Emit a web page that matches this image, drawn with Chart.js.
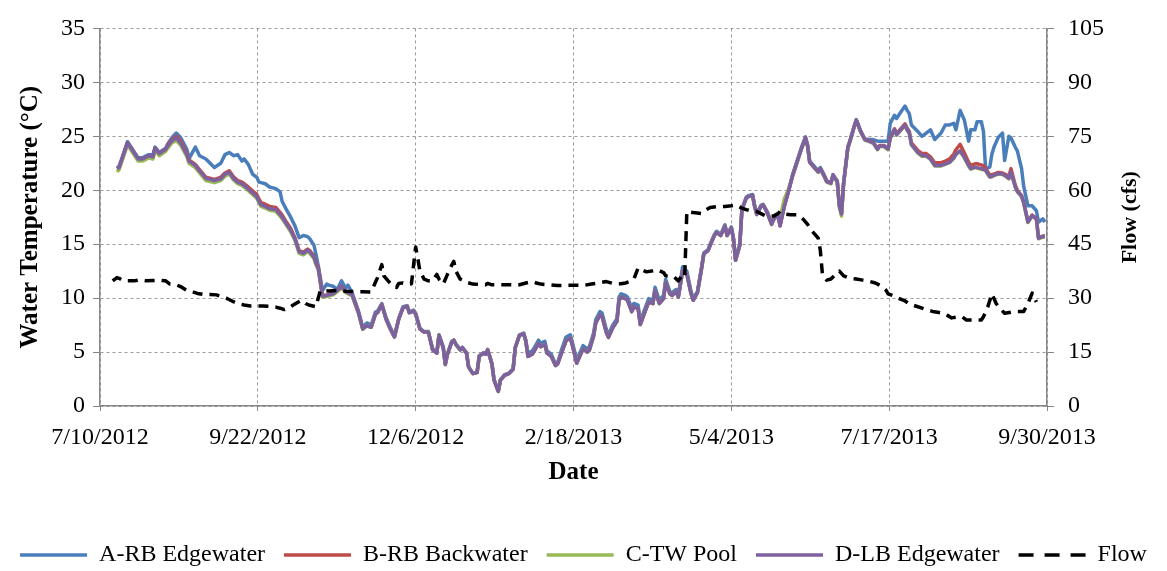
<!DOCTYPE html>
<html>
<head>
<meta charset="utf-8">
<title>Water temperature and flow</title>
<script src="https://cdn.jsdelivr.net/npm/chart.js@4.4.0/dist/chart.umd.min.js"></script>
<style>
  html, body { margin: 0; padding: 0; background: #fff; }
</style>
</head>
<body>
<canvas id="chart" width="1167" height="571"></canvas>
<script>
// x values are days counted from 7/10/2012
const startDate = new Date(2012, 6, 10);

const tempDays = [
    8, 9, 13, 16, 18, 20, 23, 25, 26, 28,
    31, 32, 34, 36, 38, 41, 42, 45, 47, 50,
    54, 57, 59, 61, 63, 65, 67, 68, 70, 72,
    74, 75, 76, 78, 80, 83, 85, 86, 88, 90,
    92, 94, 96, 98, 99, 101, 102, 103, 104, 105,
    107, 108, 110, 112, 114, 116, 117, 119, 122, 124,
    126, 128, 130, 131, 133, 135, 137, 139, 141, 143,
    145, 146, 148, 149, 151, 153, 155, 157, 159, 160,
    162, 163, 164, 166, 167, 168, 170, 171, 173, 174,
    176, 178, 179, 181, 182, 183, 185, 186, 188, 189,
    191, 193, 195, 196, 198, 200, 201, 202, 204, 205,
    207, 208, 210, 211, 213, 215, 216, 218, 220, 222,
    223, 225, 226, 228, 230, 231, 233, 234, 236, 237,
    239, 240, 242, 244, 245, 246, 248, 249, 251, 252,
    254, 255, 257, 259, 261, 262, 264, 266, 267, 269,
    270, 272, 273, 275, 277, 279, 280, 282, 284, 285,
    287, 288, 290, 291, 293, 295, 296, 298, 299, 300,
    302, 303, 305, 306, 308, 309, 310, 312, 313, 315,
    317, 318, 320, 321, 323, 325, 327, 329, 331, 333,
    334, 335, 337, 339, 340, 342, 343, 345, 346, 348,
    349, 350, 351, 353, 354, 356, 357, 359, 361, 363,
    365, 367, 368, 370, 372, 373, 375, 376, 378, 380,
    381, 382, 383, 386, 388, 390, 392, 394, 397, 399,
    401, 403, 404, 406, 408, 410, 411, 413, 414, 416,
    417, 418, 420, 421, 422, 424, 426, 427, 429, 430,
    432, 433, 435, 436, 438, 440, 442, 443, 445, 446
];

// A-RB Edgewater
const tempA = [
    22.1, 22.2, 24.5, 23.6, 23.0, 23.0, 23.3, 23.3, 24.0, 23.5,
    23.9, 24.3, 24.9, 25.3, 24.9, 23.8, 22.9, 24.0, 23.2, 22.9,
    22.1, 22.5, 23.3, 23.5, 23.2, 23.3, 22.7, 22.9, 22.4, 21.5,
    21.2, 20.75, 20.7, 20.6, 20.3, 20.15, 19.85, 18.95, 18.2, 17.5,
    16.7, 15.6, 15.8, 15.7, 15.5, 14.9, 14.0, 13.0, 11.9, 10.7,
    11.3, 11.2, 11.1, 10.8, 11.6, 10.9, 11.2, 10.5, 8.8, 7.3,
    7.7, 7.5, 8.7, 8.8, 9.5, 8.2, 7.3, 6.5, 8.1, 9.2,
    9.3, 8.7, 8.9, 8.6, 7.2, 6.9, 6.9, 5.3, 5.0, 6.6,
    5.5, 3.9, 4.8, 6.0, 6.1, 5.75, 5.25, 5.45, 4.95, 3.65,
    3.05, 3.15, 4.65, 4.95, 4.85, 5.25, 3.95, 2.45, 1.4, 2.45,
    2.9, 3.05, 3.45, 5.45, 6.6, 6.75, 6.1, 4.9, 5.1, 5.4,
    6.1, 5.8, 6.0, 5.1, 4.8, 3.9, 4.0, 5.3, 6.4, 6.6,
    5.9, 4.3, 4.7, 5.6, 5.3, 5.5, 6.8, 8.0, 8.75, 8.6,
    7.1, 6.6, 7.5, 8.1, 10.1, 10.4, 10.25, 10.1, 9.05, 9.5,
    9.35, 7.85, 8.9, 9.95, 9.8, 11.0, 9.8, 10.25, 11.75, 10.6,
    10.5, 10.8, 10.3, 12.9, 12.5, 10.6, 10.0, 10.6, 12.9, 14.2,
    14.5, 15.0, 15.9, 16.2, 15.9, 16.8, 15.9, 16.6, 15.6, 13.6,
    15.0, 18.3, 19.35, 19.5, 19.6, 18.6, 17.85, 18.6, 18.7, 18.0,
    16.95, 17.4, 17.8, 16.8, 18.6, 20.0, 21.5, 22.7, 23.9, 24.95,
    24.2, 22.7, 22.25, 21.8, 22.1, 21.35, 20.9, 20.65, 21.45, 20.85,
    18.6, 17.85, 20.7, 24.0, 24.6, 25.95, 26.55, 25.5, 24.75, 24.7,
    24.7, 24.55, 24.55, 24.55, 24.55, 26.2, 26.95, 26.65, 27.25, 27.8,
    27.4, 27.1, 26.05, 25.45, 25.0, 25.3, 25.6, 24.7, 25.3, 26.05,
    26.05, 26.2, 25.6, 27.4, 26.5, 24.55, 25.6, 25.6, 26.35, 26.35,
    25.45, 22.0, 22.15, 23.35, 24.0, 24.9, 25.3, 22.75, 25.0, 24.85,
    24.0, 23.65, 22.0, 20.35, 18.55, 18.55, 18.1, 17.05, 17.35, 17.05
];

// B-RB Backwater
const tempB = [
    22.0, 22.1, 24.4, 23.5, 22.9, 22.9, 23.2, 23.1, 23.9, 23.4,
    23.8, 24.2, 24.7, 25.0, 24.6, 23.4, 22.8, 22.4, 21.9, 21.2,
    21.0, 21.2, 21.6, 21.8, 21.25, 20.9, 20.75, 20.6, 20.3, 19.95,
    19.6, 19.2, 18.85, 18.7, 18.5, 18.4, 17.95, 17.7, 17.05, 16.45,
    15.6, 14.4, 14.25, 14.55, 14.4, 13.9, 13.3, 12.9, 11.6, 10.25,
    10.3, 10.35, 10.45, 10.7, 11.1, 10.6, 10.5, 10.3, 8.65, 7.15,
    7.45, 7.3, 8.5, 8.65, 9.4, 8.06, 7.15, 6.4, 8.06, 9.1,
    9.25, 8.65, 8.8, 8.5, 7.15, 6.85, 6.85, 5.2, 4.9, 6.55,
    5.4, 3.85, 4.8, 5.9, 6.1, 5.7, 5.2, 5.4, 4.9, 3.6,
    3.0, 3.1, 4.6, 4.9, 4.8, 5.2, 3.9, 2.4, 1.35, 2.4,
    2.85, 3.0, 3.4, 5.4, 6.55, 6.7, 6.0, 4.6, 4.8, 5.1,
    5.8, 5.5, 5.7, 4.9, 4.6, 3.75, 3.9, 5.0, 6.06, 6.3,
    5.6, 3.97, 4.4, 5.3, 5.0, 5.2, 6.5, 7.7, 8.45, 8.3,
    6.8, 6.36, 7.25, 7.85, 9.8, 10.1, 9.95, 9.8, 8.75, 9.2,
    9.05, 7.55, 8.6, 9.65, 9.5, 10.7, 9.5, 9.95, 11.45, 10.4,
    10.25, 10.6, 10.1, 12.5, 12.2, 10.4, 9.8, 10.5, 12.8, 14.1,
    14.4, 14.9, 15.8, 16.1, 15.8, 16.7, 15.8, 16.5, 15.5, 13.5,
    14.9, 18.2, 19.25, 19.4, 19.55, 18.5, 17.75, 18.5, 18.65, 17.9,
    16.85, 17.3, 17.75, 16.7, 18.5, 19.9, 21.4, 22.6, 23.8, 24.85,
    24.1, 22.6, 22.15, 21.7, 22.0, 21.25, 20.8, 20.65, 21.4, 20.8,
    18.55, 17.8, 20.65, 23.95, 24.55, 25.9, 26.5, 25.45, 24.7, 24.6,
    24.45, 23.9, 24.15, 24.15, 23.85, 24.9, 25.7, 25.25, 25.7, 26.15,
    25.75, 25.45, 24.4, 23.7, 23.4, 23.4, 23.1, 22.55, 22.55, 22.7,
    22.9, 23.35, 23.75, 24.25, 23.45, 22.6, 22.3, 22.45, 22.45, 22.35,
    22.25, 22.05, 21.4, 21.45, 21.5, 21.65, 21.6, 21.5, 21.3, 22.0,
    20.5, 20.0, 19.5, 18.9, 17.1, 17.7, 17.4, 15.6, 15.75, 15.75
];

// C-TW Pool
const tempC = [
    21.7, 21.9, 24.2, 23.3, 22.7, 22.7, 23.0, 22.9, 23.7, 23.2,
    23.6, 23.9, 24.4, 24.6, 24.2, 23.1, 22.5, 22.1, 21.6, 20.9,
    20.7, 20.9, 21.3, 21.5, 20.95, 20.6, 20.45, 20.3, 19.95, 19.6,
    19.25, 18.85, 18.5, 18.35, 18.15, 18.05, 17.6, 17.35, 16.75, 16.15,
    15.35, 14.15, 14.0, 14.3, 14.15, 13.65, 13.05, 12.65, 11.4, 10.1,
    10.15, 10.2, 10.3, 10.6, 10.95, 10.5, 10.4, 10.2, 8.6, 7.1,
    7.45, 7.3, 8.5, 8.65, 9.4, 8.06, 7.15, 6.4, 8.06, 9.1,
    9.25, 8.65, 8.8, 8.5, 7.15, 6.85, 6.85, 5.2, 4.9, 6.55,
    5.4, 3.85, 4.8, 5.9, 6.1, 5.7, 5.2, 5.4, 4.9, 3.6,
    3.0, 3.1, 4.6, 4.9, 4.8, 5.2, 3.9, 2.4, 1.35, 2.4,
    2.85, 3.0, 3.4, 5.4, 6.55, 6.7, 6.0, 4.6, 4.8, 5.1,
    5.8, 5.5, 5.7, 4.9, 4.6, 3.75, 3.9, 5.0, 6.06, 6.3,
    5.6, 3.97, 4.4, 5.3, 5.0, 5.2, 6.5, 7.7, 8.45, 8.3,
    6.8, 6.36, 7.25, 7.85, 9.8, 10.1, 9.95, 9.8, 8.75, 9.2,
    9.05, 7.55, 8.6, 9.65, 9.5, 10.7, 9.5, 9.95, 11.45, 10.4,
    10.25, 10.6, 10.1, 12.5, 12.2, 10.4, 9.8, 10.5, 12.8, 14.1,
    14.4, 14.9, 15.8, 16.1, 15.8, 16.7, 15.8, 16.5, 15.5, 13.5,
    14.9, 18.2, 19.25, 19.4, 19.55, 18.5, 17.75, 18.5, 18.65, 17.9,
    16.8, 17.25, 17.7, 17.4, 19.2, 20.1, 21.35, 22.55, 23.75, 24.8,
    24.05, 22.55, 22.1, 21.65, 21.95, 21.2, 20.75, 20.6, 21.35, 20.75,
    18.4, 17.6, 20.6, 23.9, 24.5, 25.85, 26.45, 25.4, 24.65, 24.5,
    24.35, 23.75, 24.05, 24.05, 23.75, 24.8, 25.55, 25.1, 25.55, 26.0,
    25.55, 25.25, 24.2, 23.45, 23.15, 23.15, 22.85, 22.25, 22.25, 22.4,
    22.55, 22.95, 23.3, 23.6, 23.0, 22.25, 21.95, 22.1, 22.05, 21.95,
    21.9, 21.8, 21.2, 21.25, 21.35, 21.5, 21.45, 21.35, 21.05, 21.65,
    20.3, 19.85, 19.4, 18.8, 17.0, 17.6, 17.3, 15.5, 15.65, 15.65
];

// D-LB Edgewater
const tempD = [
    22.0, 22.1, 24.4, 23.5, 22.9, 22.9, 23.2, 23.1, 23.9, 23.4,
    23.8, 24.1, 24.6, 24.85, 24.4, 23.3, 22.7, 22.3, 21.8, 21.1,
    20.9, 21.05, 21.5, 21.65, 21.1, 20.75, 20.6, 20.45, 20.1, 19.75,
    19.4, 19.0, 18.65, 18.5, 18.3, 18.2, 17.75, 17.5, 16.9, 16.3,
    15.5, 14.3, 14.15, 14.45, 14.3, 13.8, 13.2, 12.8, 11.5, 10.2,
    10.25, 10.3, 10.4, 10.7, 11.05, 10.6, 10.5, 10.3, 8.65, 7.15,
    7.45, 7.3, 8.5, 8.65, 9.4, 8.06, 7.15, 6.4, 8.06, 9.1,
    9.25, 8.65, 8.8, 8.5, 7.15, 6.85, 6.85, 5.2, 4.9, 6.55,
    5.4, 3.85, 4.8, 5.9, 6.1, 5.7, 5.2, 5.4, 4.9, 3.6,
    3.0, 3.1, 4.6, 4.9, 4.8, 5.2, 3.9, 2.4, 1.35, 2.4,
    2.85, 3.0, 3.4, 5.4, 6.55, 6.7, 6.0, 4.6, 4.8, 5.1,
    5.8, 5.5, 5.7, 4.9, 4.6, 3.75, 3.9, 5.0, 6.06, 6.3,
    5.6, 3.97, 4.4, 5.3, 5.0, 5.2, 6.5, 7.7, 8.45, 8.3,
    6.8, 6.36, 7.25, 7.85, 9.8, 10.1, 9.95, 9.8, 8.75, 9.2,
    9.05, 7.55, 8.6, 9.65, 9.5, 10.7, 9.5, 9.95, 11.45, 10.4,
    10.25, 10.6, 10.1, 12.5, 12.2, 10.4, 9.8, 10.5, 12.8, 14.1,
    14.4, 14.9, 15.8, 16.1, 15.8, 16.7, 15.8, 16.5, 15.5, 13.5,
    14.9, 18.2, 19.25, 19.4, 19.55, 18.5, 17.75, 18.5, 18.65, 17.9,
    16.85, 17.3, 17.75, 16.7, 18.5, 19.9, 21.4, 22.6, 23.8, 24.85,
    24.1, 22.6, 22.15, 21.7, 22.0, 21.25, 20.8, 20.65, 21.4, 20.8,
    18.55, 17.8, 20.65, 23.95, 24.55, 25.9, 26.5, 25.45, 24.7, 24.55,
    24.4, 23.8, 24.1, 24.1, 23.8, 24.85, 25.6, 25.15, 25.6, 26.05,
    25.6, 25.3, 24.25, 23.5, 23.2, 23.2, 22.9, 22.3, 22.3, 22.45,
    22.6, 23.0, 23.35, 23.65, 23.05, 22.3, 22.0, 22.15, 22.1, 22.0,
    21.95, 21.85, 21.25, 21.3, 21.4, 21.55, 21.5, 21.4, 21.1, 21.7,
    20.35, 19.9, 19.45, 18.85, 17.05, 17.65, 17.35, 15.55, 15.7, 15.7
];

const flowDays = [
    6, 8, 9, 11, 14, 16, 19, 22, 25, 28,
    31, 33, 36, 38, 41, 43, 46, 49, 52, 55,
    57, 60, 63, 65, 68, 71, 74, 77, 80, 83,
    85, 87, 89, 91, 93, 95, 97, 99, 102, 103,
    104, 108, 112, 116, 120, 124, 128, 130, 131, 133,
    134, 136, 138, 140, 141, 143, 145, 147, 149, 150,
    151, 153, 155, 157, 159, 160, 162, 164, 165, 167,
    168, 170, 173, 176, 179, 182, 183, 185, 189, 193,
    198, 201, 204, 206, 208, 212, 216, 221, 225, 228,
    232, 236, 239, 242, 246, 248, 250, 252, 254, 256,
    258, 261, 263, 266, 267, 269, 271, 273, 275, 276,
    277, 280, 284, 286, 288, 291, 295, 298, 300, 303,
    305, 307, 310, 312, 314, 316, 318, 320, 321, 323,
    326, 329, 332, 334, 336, 339, 340, 341, 343, 345,
    347, 349, 351, 354, 357, 360, 363, 366, 369, 371,
    372, 375, 377, 380, 382, 385, 388, 391, 393, 396,
    398, 400, 402, 404, 407, 409, 412, 416, 417, 419,
    421, 423, 425, 427, 430, 432, 436, 438, 440, 442
];

const flowCfs = [
    34.8, 35.7, 35.5, 34.8, 34.8, 34.8, 35.1, 34.8, 34.9, 35.0,
    34.8, 33.9, 33.7, 33.2, 32.1, 31.9, 31.3, 31.0, 31.0, 30.9,
    30.5, 29.9, 29.0, 28.5, 28.1, 27.8, 27.8, 27.8, 27.7, 27.5,
    27.2, 26.8, 27.2, 28.0, 28.7, 29.4, 28.5, 28.0, 27.6, 30.0,
    32.1, 32.0, 32.1, 31.9, 31.8, 31.8, 31.7, 34.4, 35.7, 39.3,
    36.2, 34.8, 33.5, 33.0, 34.1, 34.2, 33.8, 34.0, 44.2, 41.1,
    37.5, 35.3, 34.8, 34.8, 36.6, 35.3, 33.9, 36.6, 38.0, 40.2,
    37.5, 35.3, 34.4, 33.9, 33.8, 33.7, 34.1, 33.7, 33.7, 33.7,
    33.7, 34.2, 34.6, 34.2, 33.9, 33.7, 33.5, 33.6, 33.6, 33.5,
    33.9, 34.3, 34.6, 34.1, 34.0, 34.2, 34.6, 35.3, 38.4, 37.8,
    37.3, 37.6, 37.9, 37.1, 36.2, 36.0, 35.9, 34.8, 36.5, 36.0,
    54.1, 53.8, 53.5, 54.5, 55.2, 55.4, 55.5, 55.7, 55.9, 55.0,
    54.6, 54.3, 54.1, 53.5, 52.9, 52.8, 52.8, 53.5, 54.1, 53.4,
    53.2, 53.2, 51.9, 50.5, 48.7, 46.7, 43.3, 36.6, 35.0, 35.3,
    36.5, 37.5, 36.2, 35.5, 35.3, 35.0, 34.7, 34.2, 33.3, 32.2,
    31.2, 30.5, 29.9, 29.2, 28.4, 27.8, 27.2, 26.6, 26.3, 26.0,
    25.8, 25.2, 24.5, 24.7, 24.8, 23.9, 23.9, 23.9, 24.8, 27.5,
    31.2, 28.5, 27.0, 25.8, 26.1, 26.3, 26.3, 28.5, 31.4, 28.9
];

const xTickStep = 74.5;   // 447 days split in 6
const xMax = 447;

const serif = '"Liberation Serif", "Times New Roman", Times, serif';
Chart.defaults.font.family = serif;
Chart.defaults.color = '#000';

function toPoints(days, values) {
    return days.map((d, i) => ({ x: d, y: values[i] }));
}

function dayLabel(value) {
    const d = new Date(startDate.getTime());
    d.setDate(d.getDate() + Math.floor(value + 1e-6));
    return (d.getMonth() + 1) + '/' + d.getDate() + '/' + d.getFullYear();
}

function tempSet(label, color, values, order) {
    return {
        label: label,
        data: toPoints(tempDays, values),
        borderColor: color,
        backgroundColor: color,
        borderWidth: 3.5,
        yAxisID: 'y',
        order: order
    };
}

// legend lines: keep the dash of the flow series
function legendLabels(chart) {
    const items = Chart.defaults.plugins.legend.labels.generateLabels(chart);
    items.forEach(item => {
        const ds = chart.data.datasets[item.datasetIndex];
        item.lineWidth = ds.borderWidth;
        item.lineDash = ds.borderDash ? [15, 11] : [];
    });
    return items;
}

// right hand axis title reads bottom to top, like the left one
const flowTitle = {
    id: 'flowTitle',
    afterDraw(chart) {
        const ctx = chart.ctx;
        const area = chart.chartArea;
        ctx.save();
        ctx.translate(1130, (area.top + area.bottom) / 2);
        ctx.rotate(-Math.PI / 2);
        ctx.font = 'bold 22px ' + serif;
        ctx.fillStyle = '#000';
        ctx.textAlign = 'center';
        ctx.textBaseline = 'middle';
        ctx.fillText('Flow (cfs)', 0, 0);
        ctx.restore();
    }
};

const gridColor = '#9a9a9a';
const axisColor = '#868686';

new Chart(document.getElementById('chart'), {
    type: 'line',
    data: {
        datasets: [
            tempSet('A-RB Edgewater', '#4a7ebb', tempA, 4),
            tempSet('B-RB Backwater', '#be4b48', tempB, 3),
            tempSet('C-TW Pool', '#98b954', tempC, 2),
            tempSet('D-LB Edgewater', '#7d60a0', tempD, 1),
            {
                label: 'Flow',
                data: toPoints(flowDays, flowCfs),
                borderColor: '#000',
                backgroundColor: '#000',
                borderWidth: 3.5,
                borderDash: [10, 7],
                yAxisID: 'y2',
                order: 0
            }
        ]
    },
    options: {
        responsive: false,
        animation: false,
        events: [],
        layout: { padding: { left: 0, right: 0, top: 16, bottom: -6 } },
        elements: {
            point: { radius: 0 },
            line: { tension: 0, borderJoinStyle: 'round', borderCapStyle: 'butt' }
        },
        plugins: {
            tooltip: { enabled: false },
            legend: {
                position: 'bottom',
                labels: {
                    usePointStyle: true,
                    pointStyle: 'line',
                    pointStyleWidth: 67,
                    padding: 19,
                    color: '#000',
                    font: { size: 24 },
                    generateLabels: legendLabels,
                    sort: (a, b) => a.datasetIndex - b.datasetIndex
                }
            }
        },
        scales: {
            x: {
                type: 'linear',
                min: 0,
                max: xMax,
                ticks: {
                    stepSize: xTickStep,
                    callback: dayLabel,
                    font: { size: 24 },
                    padding: 12,
                    maxRotation: 0,
                    autoSkip: false
                },
                grid: { color: gridColor, tickLength: 5, tickColor: axisColor },
                border: { color: axisColor, width: 1.5, dash: [3, 3] },
                title: {
                    display: true,
                    text: 'Date',
                    font: { size: 25, weight: 'bold' },
                    padding: { top: 0, bottom: 36 }
                },
                afterFit: scale => { scale.height = 118; }
            },
            y: {
                position: 'left',
                min: 0,
                max: 35,
                ticks: { stepSize: 5, font: { size: 24 }, padding: 8 },
                grid: { color: gridColor, tickLength: 7, tickColor: axisColor },
                border: { color: axisColor, width: 1.5, dash: [3, 3] },
                title: {
                    display: true,
                    text: 'Water Temperature (°C)',
                    font: { size: 25, weight: 'bold' },
                    padding: { top: 16, bottom: 0 }
                },
                afterFit: scale => { scale.width = 100; }
            },
            y2: {
                position: 'right',
                min: 0,
                max: 105,
                ticks: { stepSize: 15, font: { size: 24 }, padding: 14 },
                grid: { drawOnChartArea: false, tickLength: 7, tickColor: axisColor },
                border: { color: axisColor, width: 1.5 },
                afterFit: scale => { scale.width = 120; }
            }
        }
    },
    plugins: [flowTitle]
});
</script>
</body>
</html>
